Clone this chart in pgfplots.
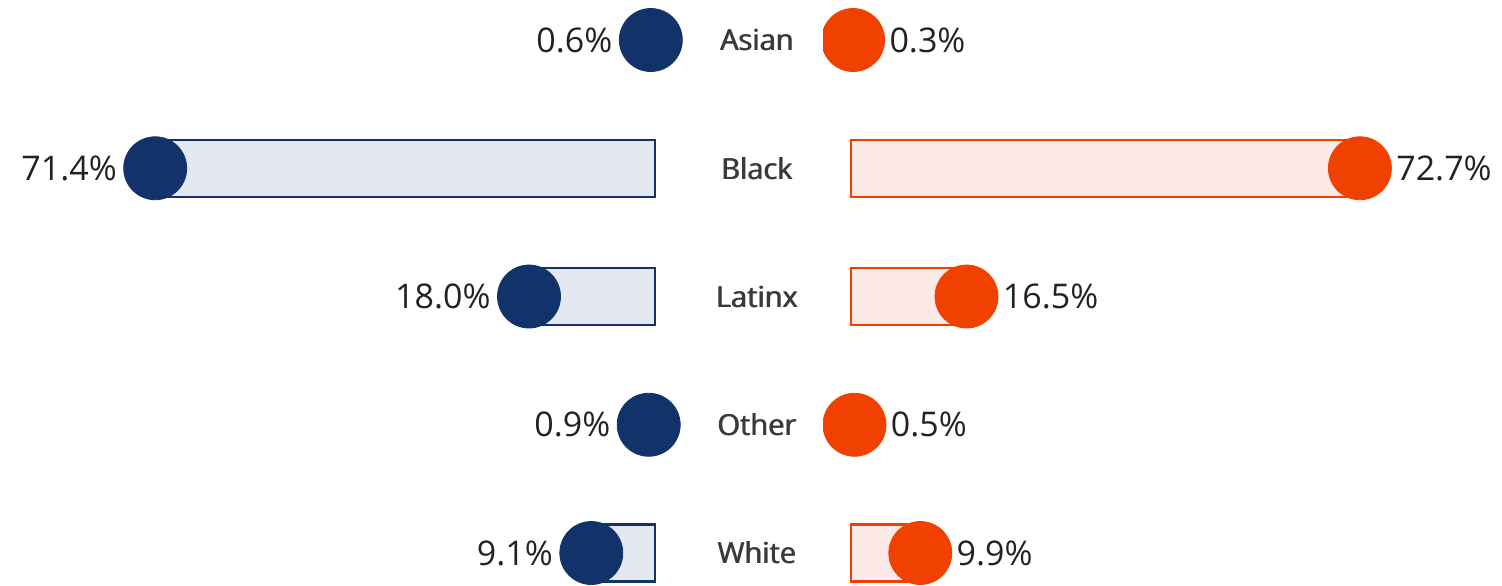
\documentclass[border=0pt]{standalone}
\usepackage{fontspec}
\setmainfont{Open Sans}
\newcommand\semib[1]{\rlap{#1}\hspace{0.45pt}#1}
\usepackage{pgfplots}
\usepackage{pgfplotstable}
\pgfplotsset{compat=1.18}
\definecolor{navy}{HTML}{12336A}
\definecolor{navyfill}{HTML}{E3E7F0}
\definecolor{orng}{HTML}{F04100}
\definecolor{orngfill}{HTML}{FDEAE6}
\definecolor{labgray}{HTML}{3A3A3A}
\definecolor{valtext}{HTML}{222222}

\pgfplotstableread{
row val
0 0.6
1 71.4
2 18.0
3 0.9
4 9.1
}\leftdata

\pgfplotstableread{
row val
0 0.3
1 72.7
2 16.5
3 0.5
4 9.9
}\rightdata

\pgfplotsset{
  base/.style={scale only axis, height=292.5pt, ymin=-0.3119, ymax=4.2495,
    y dir=reverse, clip=true, clip marker paths=true},
  valfmt/.style={point meta=x,
    nodes near coords={\pgfmathprintnumber[fixed,fixed zerofill,precision=1,assume math mode=true]{\pgfplotspointmeta}\%},
  },
}

\begin{document}
\begin{tikzpicture}
\begin{axis}[base, at={(0pt,0pt)}, anchor=south west,
  width=350pt, xmin=-6.4286, xmax=93.5714, x dir=reverse, hide axis]
  \addplot[xbar, bar width=0.444, fill=navyfill, draw=navy, line width=1.2pt]
    table[x=val,y=row]{\leftdata};
  \addplot[only marks, mark=*, mark size=15.75pt, color=navy, valfmt,
    every node near coord/.append style={anchor=east, xshift=-19pt, inner sep=0pt,
      text=valtext, font=\fontsize{17}{20}\selectfont}]
    table[x=val,y=row]{\leftdata};
\end{axis}
\begin{axis}[base, at={(411.5pt,0pt)}, anchor=south west,
  width=339.5pt, xmin=-4, xmax=93,
  hide x axis, axis y line=left, y axis line style={draw=none},
  ytick={0,1,2,3,4},
  yticklabels={\semib{Asian},\semib{Black},\semib{Latinx},\semib{Other},\semib{White}},
  major tick length=0pt,
  yticklabel style={anchor=center, xshift=-33pt, inner sep=0pt,
    font=\fontsize{14.5}{17}\selectfont, text=labgray}]
  \addplot[xbar, bar width=0.444, fill=orngfill, draw=orng, line width=1.2pt]
    table[x=val,y=row]{\rightdata};
  \addplot[only marks, mark=*, mark size=15.75pt, color=orng, valfmt,
    every node near coord/.append style={anchor=west, xshift=18pt, inner sep=0pt,
      text=valtext, font=\fontsize{17}{20}\selectfont}]
    table[x=val,y=row]{\rightdata};
\end{axis}
\pgfresetboundingbox
\path[use as bounding box] (0pt,0pt) rectangle (751pt,292.5pt);
\end{tikzpicture}
\end{document}
